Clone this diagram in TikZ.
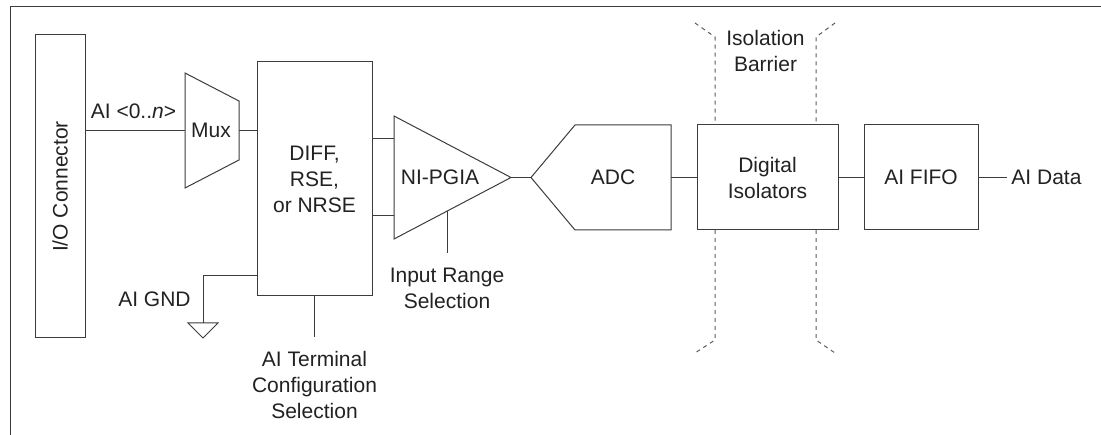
\documentclass[tikz,border=0pt]{standalone}
\usepackage{fontspec}
\setmainfont{Liberation Sans}
\usetikzlibrary{calc}
\definecolor{wirecolor}{HTML}{3C3C3C}
\definecolor{textcolor}{HTML}{222222}
\definecolor{barriercolor}{HTML}{5C5C5C}

\begin{document}
\begin{tikzpicture}[
  x=1pt,y=-1pt,
  font=\fontsize{21}{26}\selectfont,
  wire/.style={draw=wirecolor,line width=1pt},
  block/.style={wire,inner sep=0pt,align=center,text=textcolor},
  blank/.style={inner sep=0pt,outer sep=0pt},
  label text/.style={inner sep=0pt,align=center,text=textcolor},
  barrier/.style={draw=barriercolor,line width=1pt,dash pattern=on 4pt off 4pt},
  ]
  \useasboundingbox (0,0) rectangle (1101,435);
  \draw[wire] (10,435) -- (10,7) -- (1101,7);

  % front end
  \node[block,minimum width=50,minimum height=303] (io-connector) at (60,186.5) {};
  \node[label text,rotate=90] at (io-connector) {I/O Connector};

  \node[blank,minimum width=54,minimum height=115] (mux) at (212,130.5) {};
  \draw[wire] (mux.north west) -- ($(mux.north east)+(0,28)$) -- ($(mux.south east)+(0,-28)$)
    -- (mux.south west) -- cycle;
  \node[label text] at ([xshift=-1pt]mux.center) {Mux};

  \node[block,minimum width=115,minimum height=234] (terminal-mode) at (314.5,179) {DIFF,\\RSE,\\or NRSE};

  \draw[wire] (io-connector.east |- mux.west) -- (mux.west);
  \node[label text,anchor=base] (ai-channels) at (133.5,119) {AI <0..\textit{n}>};
  \draw[wire] (mux.east) -- (mux.east -| terminal-mode.west);

  % ground and configuration select
  \coordinate (gnd) at (203,323);
  \draw[wire] ([yshift=21pt]terminal-mode.south west) -| (gnd);
  \draw[wire] (gnd) ++(-15,0) -- ++(30,0) -- ($(gnd)+(0,15)$) -- cycle;
  \node[label text,anchor=base] (ai-gnd) at (154.5,307) {AI GND};

  \coordinate (terminal-select) at (terminal-mode.south |- 0,337);
  \draw[wire] (terminal-mode.south) -- (terminal-select);
  \node[label text,anchor=north] at ([yshift=-14pt]terminal-select) {AI Terminal\\Configuration\\Selection};

  % amplifier
  \node[blank,minimum width=117,minimum height=123] (pgia) at (452.5,177.5) {};
  \draw[wire] (pgia.north west) -- (pgia.east) -- (pgia.south west) -- cycle;
  \node[label text] at (440,177.5) {NI-PGIA};
  \coordinate (pgia-in1) at ([yshift=38.5pt]pgia.west);
  \coordinate (pgia-in2) at ([yshift=-38.5pt]pgia.west);
  \draw[wire] (pgia-in1 -| terminal-mode.east) -- (pgia-in1);
  \draw[wire] (pgia-in2 -| terminal-mode.east) -- (pgia-in2);

  \coordinate (range-tap) at ($(pgia.east)!0.547!(pgia.south west)$);
  \coordinate (range-select) at (range-tap |- 0,253);
  \draw[wire] (range-tap) -- (range-select);
  \node[label text,anchor=north] at ([yshift=-15pt]range-select) {Input Range\\Selection};

  % conversion and isolation
  \node[blank,minimum width=140,minimum height=105] (adc) at (601,177.5) {};
  \draw[wire] (adc.west) -- ([xshift=44pt]adc.north west) -- (adc.north east)
    -- (adc.south east) -- ([xshift=44pt]adc.south west) -- cycle;
  \node[label text] at ([xshift=12pt]adc.center) {ADC};
  \draw[wire] (pgia.east) -- (adc.west);

  \node[block,minimum width=141,minimum height=105] (digital-isolators) at (767.5,177.5) {Digital\\Isolators};
  \draw[wire] (adc.east) -- (digital-isolators.west);

  \node[block,minimum width=114,minimum height=105] (ai-fifo) at (921,177.5) {AI FIFO};
  \draw[wire] (digital-isolators.east) -- (ai-fifo.west);

  \node[label text] (ai-data) at (1046.5,177.5) {AI Data};
  \draw[wire] (ai-fifo.east) -- ([xshift=-4pt]ai-data.west);

  % barrier
  \draw[barrier] (695,23) -- (715,37) -- (715,125);
  \draw[barrier] (835,23) -- (816,37) -- (816,125);
  \draw[barrier] (715,230) -- (715,340) -- (695,353);
  \draw[barrier] (816,230) -- (816,340) -- (835,353);
  \node[label text,anchor=north] at (765.5,30) {Isolation\\Barrier};
\end{tikzpicture}
\end{document}
